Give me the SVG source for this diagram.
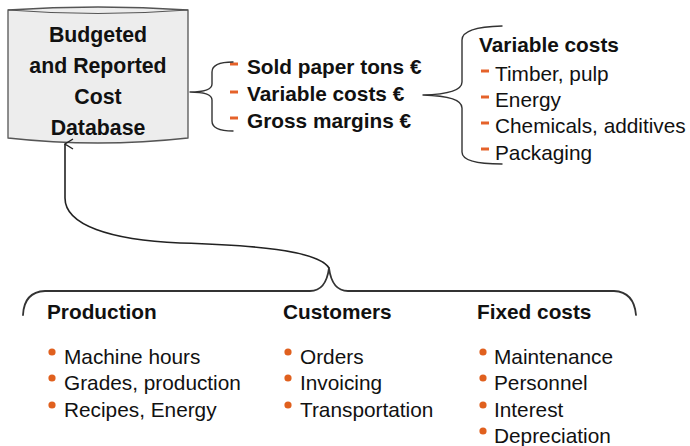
<svg xmlns="http://www.w3.org/2000/svg" width="690" height="446" viewBox="0 0 690 446">
  <style>
    .t { font-family: "Liberation Sans", Arial, sans-serif; font-size: 20.8px; fill: #111; }
    .b { font-weight: bold; }
    .db { font-size: 21.3px; }
    .brace { fill: none; stroke: #333; stroke-width: 1.4; stroke-linecap: round; stroke-linejoin: round; }
    .wire { fill: none; stroke: #222; stroke-width: 1.6; }
    .dash { stroke: #E5622A; stroke-width: 3; }
    .dot { fill: #E0601E; }
  </style>
  <defs>
    <marker id="openArrow" markerWidth="12" markerHeight="12" refX="6" refY="1" orient="auto-start-reverse" markerUnits="userSpaceOnUse">
      <path d="M1,9 L6,1 L11,9" fill="none" stroke="#222" stroke-width="1.4"/>
    </marker>
  </defs>

  <rect width="690" height="446" fill="#fff"/>

  <!-- cost database cylinder -->
  <g id="database">
    <path d="M8,10 Q98,4 188,10 L188,138 Q98,148 8,138 Z" fill="#EDEDED" stroke="#555" stroke-width="1.3"/>
    <path d="M8,10 Q98,17 188,10" fill="none" stroke="#555" stroke-width="1.1"/>
    <text class="t b db" x="98" y="42" text-anchor="middle">Budgeted</text>
    <text class="t b db" x="98" y="73" text-anchor="middle">and Reported</text>
    <text class="t b db" x="98" y="104" text-anchor="middle">Cost</text>
    <text class="t b db" x="98" y="135" text-anchor="middle">Database</text>
  </g>

  <!-- reported figures -->
  <g id="reported-figures">
    <line class="dash" x1="230" y1="64" x2="238" y2="64"/>
    <line class="dash" x1="230" y1="92" x2="238" y2="92"/>
    <line class="dash" x1="230" y1="118" x2="238" y2="118"/>
    <text class="t b" x="247" y="74">Sold paper tons €</text>
    <text class="t b" x="247" y="101">Variable costs €</text>
    <text class="t b" x="247" y="128">Gross margins €</text>
  </g>

  <!-- variable cost breakdown -->
  <g id="variable-costs">
    <text class="t b" x="479" y="52">Variable costs</text>
    <line class="dash" x1="481" y1="71" x2="489" y2="71"/>
    <line class="dash" x1="481" y1="97" x2="489" y2="97"/>
    <line class="dash" x1="481" y1="123" x2="489" y2="123"/>
    <line class="dash" x1="481" y1="149" x2="489" y2="149"/>
    <text class="t" x="495" y="81">Timber, pulp</text>
    <text class="t" x="495" y="107">Energy</text>
    <text class="t" x="495" y="133">Chemicals, additives</text>
    <text class="t" x="495" y="160">Packaging</text>
  </g>

  <!-- source systems -->
  <g id="production">
    <text class="t b" x="47" y="319">Production</text>
    <circle class="dot" cx="52" cy="352" r="3.6"/>
    <circle class="dot" cx="52" cy="378" r="3.6"/>
    <circle class="dot" cx="52" cy="405" r="3.6"/>
    <text class="t" x="64" y="364">Machine hours</text>
    <text class="t" x="64" y="390">Grades, production</text>
    <text class="t" x="64" y="417">Recipes, Energy</text>
  </g>

  <g id="customers">
    <text class="t b" x="283" y="319">Customers</text>
    <circle class="dot" cx="288" cy="352" r="3.6"/>
    <circle class="dot" cx="288" cy="378" r="3.6"/>
    <circle class="dot" cx="288" cy="405" r="3.6"/>
    <text class="t" x="300" y="364">Orders</text>
    <text class="t" x="300" y="390">Invoicing</text>
    <text class="t" x="300" y="417">Transportation</text>
  </g>

  <g id="fixed-costs">
    <text class="t b" x="477" y="319">Fixed costs</text>
    <circle class="dot" cx="483" cy="352" r="3.6"/>
    <circle class="dot" cx="483" cy="378" r="3.6"/>
    <circle class="dot" cx="483" cy="405" r="3.6"/>
    <circle class="dot" cx="483" cy="431" r="3.6"/>
    <text class="t" x="494" y="364">Maintenance</text>
    <text class="t" x="494" y="390">Personnel</text>
    <text class="t" x="494" y="417">Interest</text>
    <text class="t" x="494" y="443">Depreciation</text>
  </g>

  <!-- braces and connector -->
  <g id="connectors">
    <path class="brace" d="M233,62 Q212,62 212,72 L212,84 Q212,92 190,92 Q212,92 212,100 L212,121 Q212,131 233,131"/>
    <path class="brace" d="M502,26 Q462,27 462,40 L462,82 Q462,94 423,95 Q462,96 462,108 L462,152 Q462,164 502,164"/>
    <path class="brace" style="stroke-width:1.8" d="M23,315 Q24,292 45,291 L310,291 Q326,291 329,268 Q332,291 348,291 L614,291 Q634,292 636,315"/>
    <path class="wire" marker-end="url(#openArrow)" d="M329,268 C318,250 250,245 180,243 C110,240 65,225 65,198 L65,144"/>
  </g>
</svg>
